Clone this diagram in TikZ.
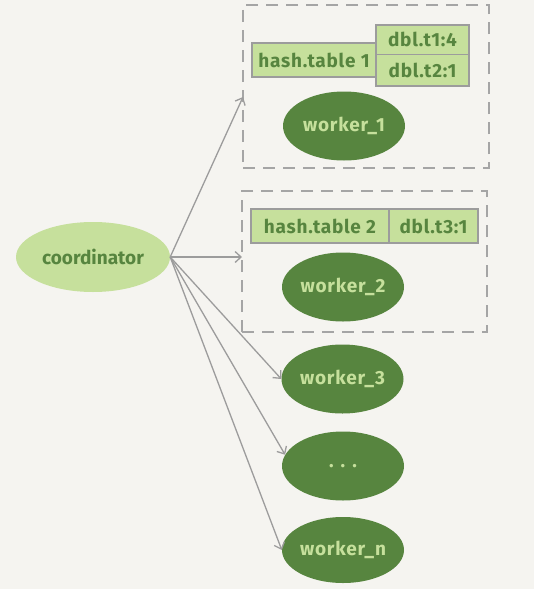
\documentclass[tikz,border=0pt]{standalone}
\usepackage{fontspec}
\setmainfont{Fira Sans}
\usetikzlibrary{shapes.geometric,arrows.meta}
\definecolor{bg}{HTML}{F5F4F0}
\definecolor{darkg}{HTML}{57853F}
\definecolor{lightg}{HTML}{C6E09C}
\definecolor{lineg}{HTML}{9C9C9C}
\definecolor{dashg}{HTML}{A5A5A5}
\tikzset{
  worker/.style={ellipse, fill=darkg, text=lightg, inner sep=0pt, minimum width=122pt, minimum height=69pt, font=\fontsize{19}{19}\selectfont\bfseries\addfontfeature{LetterSpace=4}},
  coordbox/.style={ellipse, fill=lightg, text=darkg, inner sep=0pt, minimum width=154pt, minimum height=70pt, font=\fontsize{19}{19}\selectfont\bfseries},
  cell/.style={draw=lineg, line width=1.2pt, fill=lightg, text=darkg, inner sep=0pt, font=\fontsize{19}{19}\selectfont\bfseries\addfontfeature{LetterSpace=4}},
  group/.style={draw=dashg, line width=1.5pt, dash pattern=on 12pt off 8pt},
  conn/.style={draw=lineg, line width=1.3pt, -{Straight Barb[length=6pt,width=11pt]}}
}
\begin{document}
\begin{tikzpicture}[x=1pt,y=-1pt]
\fill[bg] (0,0) rectangle (534,589);
\useasboundingbox (0,0) rectangle (534,589);
% group boxes
\node[group, inner sep=0pt, minimum width=246pt, minimum height=163pt] (box1) at (366,86.5) {};
\node[group, inner sep=0pt, minimum width=245pt, minimum height=141pt] (box2) at (364.5,261.5) {};
% hash table 1
\node[cell, minimum width=124pt, minimum height=34pt] (ht1) at (314,60) {hash.table 1};
\node[cell, minimum width=93pt, minimum height=29.5pt] (t1) at (422.5,39.75) {dbl.t1:4};
\node[cell, minimum width=93pt, minimum height=31.5pt] (t2) at (422.5,70.25) {dbl.t2:1};
% hash table 2
\node[cell, minimum width=138pt, minimum height=34pt] (ht2) at (320,226) {hash.table 2};
\node[cell, minimum width=89pt, minimum height=34pt] (t3) at (433.5,226) {dbl.t3:1};
% ellipses
\node[coordbox] (coord) at (93,257) {coordinator};
\node[worker] (w1) at (344,126) {worker\_1};
\node[worker] (w2) at (343,287) {worker\_2};
\node[worker] (w3) at (342.5,379) {worker\_3};
\node[worker] (dots) at (343,466) {. . .};
\node[worker, minimum height=66pt] (wn) at (343,550) {worker\_n};
% arrow ends on group boxes
\coordinate (a1) at (243,97);
\coordinate (a2) at (242,257);
% connectors
\draw[conn] (coord.east) -- (a1);
\draw[conn] (coord.east) -- (a2);
\draw[conn] (coord.east) -- (w3.west);
\draw[conn] (coord.east) -- (dots.169);
\draw[conn] (coord.east) -- (wn.west);
\end{tikzpicture}
\end{document}
